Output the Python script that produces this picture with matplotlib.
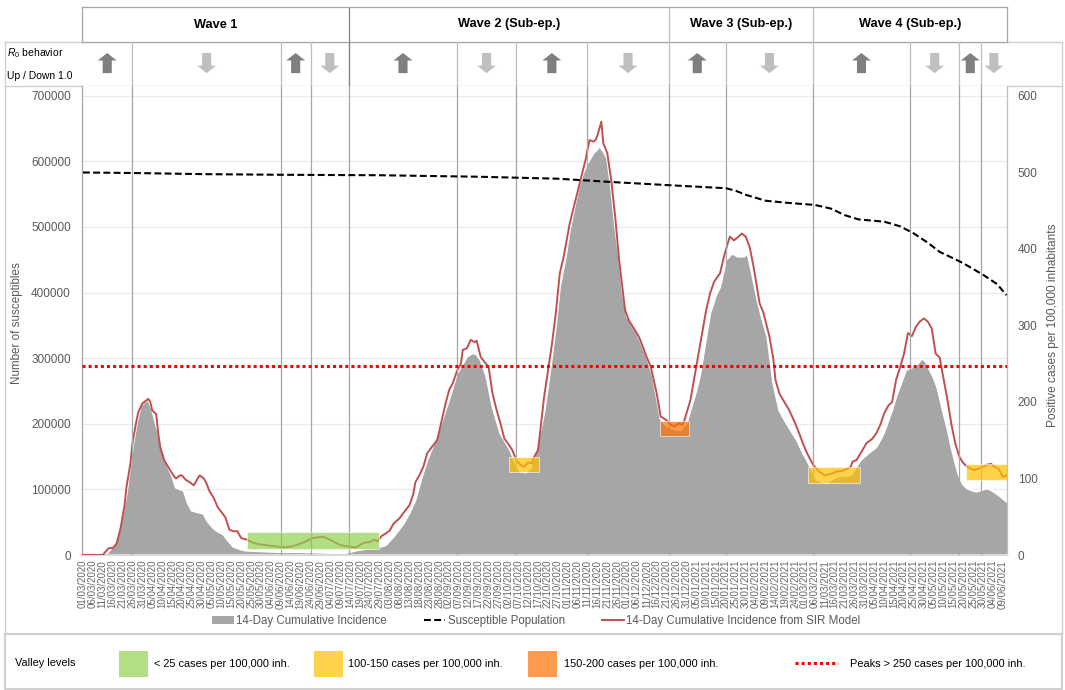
import numpy as np
import pandas as pd
import matplotlib
matplotlib.use("Agg")
import matplotlib.pyplot as plt
from matplotlib.patches import Rectangle, Polygon
from matplotlib.lines import Line2D
from matplotlib.transforms import blended_transform_factory
from matplotlib.ticker import FuncFormatter

plt.rcParams['font.family'] = ['Liberation Sans', 'DejaVu Sans']
plt.rcParams['mathtext.fontset'] = 'custom'
plt.rcParams['mathtext.rm'] = 'Liberation Sans'
plt.rcParams['mathtext.it'] = 'Liberation Sans:italic'

"""
Data (days counted from 01/03/2020)
"""
start = pd.Timestamp('2020-03-01')
last_day = 466.8

# 14-day cumulative incidence (per 100,000 inh.)
ci_day = [0, 10, 12, 14, 16, 19, 22, 25, 27, 29, 31, 33, 35, 37, 39, 41, 43, 45, 47, 49,
          51, 53, 55, 58, 61, 63, 66, 68, 71, 73, 76, 79, 82, 89, 100, 110, 123, 131, 135, 138,
          143, 148, 153, 157, 162, 165, 168, 171, 174, 178, 181, 184, 186, 189, 192, 194, 197, 199, 201, 204,
          207, 211, 216, 219, 221, 224, 226, 229, 231, 233, 235, 237, 239, 241, 244, 246, 249, 251, 253, 255,
          258, 260, 261, 263, 265, 267, 269, 271, 273, 275, 278, 280, 283, 285, 288, 290, 292, 295, 298, 302,
          305, 307, 310, 312, 315, 317, 320, 322, 325, 328, 331, 334, 336, 338, 341, 343, 346, 349, 352, 355,
          358, 361, 364, 366, 369, 371, 374, 376, 378, 381, 384, 388, 393, 397, 401, 404, 406, 409, 411, 414,
          416, 420, 422, 424, 426, 428, 430, 432, 435, 437, 439, 441, 443, 445, 447, 450, 452, 454, 457, 459,
          462, 464, 466.8]
ci_val = [0, 0, 2, 8, 15, 40, 80, 140, 170, 194, 200, 203, 190, 170, 152, 133, 115, 104, 88, 86,
          84, 68, 58, 56, 54, 44, 35, 31, 27, 20, 11, 8, 6, 5, 4, 4, 3, 2, 4, 6,
          8, 9, 13, 24, 41, 55, 72, 100, 124, 150, 172, 195, 211, 237, 250, 259, 264, 262, 255, 233,
          194, 159, 137, 118, 109, 108, 113, 137, 160, 185, 220, 259, 300, 350, 390, 424, 462, 485, 500, 512,
          525, 530, 534, 528, 518, 480, 430, 390, 340, 312, 298, 290, 272, 259, 235, 207, 178, 168, 165, 163,
          172, 189, 215, 237, 285, 316, 340, 350, 385, 394, 390, 390, 394, 370, 333, 312, 285, 224, 189, 175,
          162, 150, 133, 124, 108, 98, 95, 94, 98, 102, 104, 104, 124, 133, 141, 155, 168, 190, 207, 228,
          242, 246, 250, 257, 253, 242, 232, 218, 185, 165, 141, 120, 102, 92, 87, 84, 83, 85, 87, 85,
          80, 76, 70]

# 14-day cumulative incidence from SIR model (per 100,000 inh.)
sir_day = [0, 10, 11, 13, 15, 17, 19, 21, 22, 24, 25, 27, 28, 30, 32, 33, 34, 35, 37, 38,
           39, 41, 44, 46, 47, 49, 50, 52, 54, 56, 58, 59, 61, 62, 64, 66, 68, 70, 72, 74,
           76, 78, 80, 83, 86, 89, 95, 101, 105, 108, 112, 116, 119, 121, 124, 127, 130, 134, 138, 140,
           142, 145, 147, 149, 151, 153, 155, 157, 160, 162, 165, 167, 168, 170, 172, 174, 176, 179, 181, 183,
           185, 187, 189, 191, 192, 194, 196, 198, 199, 201, 203, 205, 207, 209, 211, 213, 215, 217, 219, 221,
           223, 225, 227, 228, 230, 231, 233, 235, 237, 239, 241, 243, 246, 249, 251, 253, 254, 256, 258, 259,
           260, 262, 263, 265, 267, 269, 271, 274, 276, 278, 281, 283, 285, 287, 290, 292, 295, 297, 299, 301,
           303, 304, 307, 310, 313, 315, 317, 319, 322, 324, 326, 327, 329, 331, 333, 335, 337, 339, 342, 344,
           347, 349, 350, 352, 354, 357, 360, 362, 364, 366, 369, 372, 375, 378, 381, 384, 388, 389, 391, 394,
           396, 399, 401, 403, 405, 407, 409, 411, 413, 415, 417, 419, 421, 423, 425, 427, 429, 431, 433, 435,
           437, 439, 441, 443, 445, 447, 450, 452, 454, 457, 459, 461, 463, 465, 466.8]
sir_val = [0, 0, 3, 9, 9, 15, 35, 65, 89, 120, 146, 175, 187, 198, 202, 204, 200, 189, 184, 160,
           141, 124, 111, 103, 100, 104, 104, 98, 95, 91, 100, 104, 100, 96, 83, 75, 63, 56, 49, 33,
           31, 31, 22, 20, 16, 14, 12, 10, 11, 13, 17, 22, 23, 24, 21, 17, 13, 11, 10, 13,
           16, 17, 20, 18, 25, 28, 32, 41, 48, 55, 65, 80, 95, 104, 115, 133, 140, 150, 172, 195,
           215, 225, 240, 250, 268, 270, 281, 278, 280, 259, 252, 246, 211, 190, 172, 152, 145, 137, 124, 118,
           115, 121, 120, 128, 137, 159, 205, 240, 275, 316, 368, 390, 433, 464, 485, 505, 516, 542, 540, 542,
           548, 566, 538, 525, 490, 442, 385, 320, 306, 298, 285, 272, 258, 246, 211, 181, 176, 170, 168, 172,
           170, 176, 202, 246, 290, 320, 342, 357, 368, 390, 408, 416, 411, 415, 420, 416, 402, 376, 329, 316,
           285, 255, 229, 211, 202, 189, 172, 159, 145, 133, 118, 109, 104, 106, 109, 110, 115, 122, 124, 137,
           146, 152, 159, 170, 185, 195, 200, 229, 245, 263, 290, 286, 298, 305, 309, 305, 296, 263, 258, 230,
           202, 170, 145, 128, 120, 115, 111, 112, 114, 118, 119, 115, 112, 102, 104]

# susceptible population (number of people)
sus_day = [0, 30, 60, 100, 150, 200, 240, 270, 300, 325, 330, 335, 345, 355, 370, 378,
           385, 392, 405, 413, 420, 427, 433, 440, 445, 455, 462, 466.8]
sus_val = [583000, 582000, 580500, 579500, 578800, 576500, 573500, 568000, 563000, 559000,
           555000, 549000, 540000, 537000, 533500, 528000, 518000, 511500, 508000, 501000,
           490000, 476000, 462000, 452000, 444600, 427000, 413000, 396000]

# R0 behaviour periods (boundaries, days) and direction of each period
r0_bounds = [25, 100, 115, 134.5, 189, 219, 255, 296, 325, 369, 418, 443, 454]
r0_dirs = ['up', 'down', 'up', 'down', 'up', 'down', 'up', 'down',
           'up', 'down', 'up', 'down', 'up', 'down']

# waves
wave_bounds = [134.5, 296, 369]
wave_names = ['Wave 1', 'Wave 2 (Sub-ep.)', 'Wave 3 (Sub-ep.)', 'Wave 4 (Sub-ep.)']

# valley boxes: start day, end day, low, high (per 100,000 inh.), level
valley_start = [83, 215.5, 291.7, 366.7, 446.4]
valley_end = [149.8, 230.7, 306.5, 392.5, 466.8]
valley_low = [8, 108, 155, 94.5, 98.3]
valley_high = [30.4, 128, 175.4, 115.3, 118.9]
valley_level = ['green', 'yellow', 'orange', 'yellow', 'yellow']

peak_level = 247

valley_colors = {'green': '#92D050', 'yellow': '#FFC000', 'orange': '#FF7000'}
valley_labels = ['< 25 cases per 100,000 inh.', '100-150 cases per 100,000 inh.',
                 '150-200 cases per 100,000 inh.']

tick_days = np.arange(0, 466, 5)
tick_labels = [(start + pd.Timedelta(days=int(d))).strftime('%d/%m/%Y') for d in tick_days]


"""
Figure layout
"""
W, H = 1065, 690
fig = plt.figure(figsize=(W / 100, H / 100), dpi=100)


def box(x0, y0, x1, y1):
    return [x0 / W, 1 - y1 / H, (x1 - x0) / W, (y1 - y0) / H]


ov = fig.add_axes([0, 0, 1, 1], zorder=0)
ov.set_xlim(0, W)
ov.set_ylim(H, 0)
ov.axis('off')

frame_col = '#D0D0D0'
ov.plot([5, 1062], [41.7, 41.7], color=frame_col, lw=1)
ov.plot([5, 1062], [86, 86], color=frame_col, lw=1)
ov.plot([5, 5], [41.7, 634], color=frame_col, lw=1)
ov.plot([1062, 1062], [41.7, 634], color=frame_col, lw=1)
ov.add_patch(Rectangle((5, 634), 1057, 55, fill=False, edgecolor=frame_col, lw=1.5))

ov.text(7, 53, r'$\mathit{R}_0$ behavior', fontsize=7.5, va='center', ha='left')
ov.text(7, 76, 'Up / Down 1.0', fontsize=7.5, va='center', ha='left')

# main plot (right units)
y_scale = 600 / 700000
ax = fig.add_axes(box(82, 86, 1006.5, 555), zorder=2)
ax.set_xlim(-0.5, last_day)
ax.set_ylim(0, 714800 * y_scale)

for v in range(100000, 700001, 100000):
    ax.axhline(v * y_scale, color='#EBEBEB', lw=1, zorder=0)

ax.fill_between(ci_day, 0, ci_val, color='#A6A6A6', lw=0, zorder=1)
ax.plot(ci_day, ci_val, color='white', lw=1.6, zorder=2)
ax.plot(sir_day, sir_val, color='#C0504D', lw=1.4, zorder=3)

for b in r0_bounds:
    ax.axvline(b, color='#A6A6A6', lw=0.9, zorder=4)

for s, e, lo, hi, lev in zip(valley_start, valley_end, valley_low, valley_high, valley_level):
    ax.add_patch(Rectangle((s, lo), e - s, hi - lo, facecolor=valley_colors[lev], alpha=0.7,
                           edgecolor='white', lw=0.6, zorder=5))

ax.axhline(peak_level, color='#FF0000', lw=2.2, linestyle=(0, (1, 1)), zorder=6)

ax.set_xticks(tick_days)
ax.set_xticklabels(tick_labels, rotation=90, fontsize=7.0, color='#666666')
ax.tick_params(axis='x', length=0, pad=3.5)

axl = ax.twinx()
ax.yaxis.tick_right()
ax.yaxis.set_label_position('right')
axl.yaxis.tick_left()
axl.yaxis.set_label_position('left')
axl.set_ylim(0, 714800)
axl.plot(sus_day, sus_val, color='black', lw=1.5, linestyle=(0, (3.3, 1.6)))

ax.set_yticks(range(0, 601, 100))
axl.set_yticks(range(0, 700001, 100000))
axl.yaxis.set_major_formatter(FuncFormatter(lambda v, p: f'{int(v)}'))
ax.tick_params(axis='y', length=0, pad=8, labelsize=8.5, labelcolor='#595959')
axl.tick_params(axis='y', length=0, pad=8, labelsize=8.5, labelcolor='#595959')

ax.set_ylabel('Positive cases per 100,000 inhabitants', fontsize=8.6, color='#595959')
ax.yaxis.set_label_coords((1047 - 82) / 924.5, 0.49)
axl.set_ylabel('Number of susceptibles', fontsize=8.4, color='#595959')
axl.yaxis.set_label_coords((23 - 82) / 924.5, 0.495)

for sp in axl.spines.values():
    sp.set_visible(False)
ax.spines['top'].set_visible(False)
ax.spines['left'].set_color('#A6A6A6')
ax.spines['left'].set_linewidth(0.9)
ax.spines['right'].set_color('#BFBFBF')
ax.spines['right'].set_linewidth(0.9)
ax.spines['bottom'].set_color('#D9D9D9')
ax.spines['bottom'].set_linewidth(1.5)

# header with waves
hdr = fig.add_axes(box(82, 7.3, 1006.5, 41.7), sharex=ax)
hdr.set_ylim(0, 1)
hdr.tick_params(left=False, bottom=False, labelleft=False, labelbottom=False)
for sp in hdr.spines.values():
    sp.set_color('#A6A6A6')
    sp.set_linewidth(0.9)
edges = [-0.5] + wave_bounds + [last_day]
for i, name in enumerate(wave_names):
    if i > 0:
        hdr.axvline(edges[i], color='#808080' if i == 1 else '#BFBFBF', lw=0.9)
    hdr.text((edges[i] + edges[i + 1]) / 2, 0.5, name, ha='center', va='center',
             fontsize=9.2, fontweight='bold')

# R0 behaviour row
r0 = fig.add_axes(box(82, 41.7, 1006.5, 86), sharex=ax)
r0.set_ylim(0, 1)
r0.axis('off')
r0.patch.set_visible(False)
tr = blended_transform_factory(r0.transData, r0.transAxes)
seg = [-0.5] + r0_bounds + [last_day]
for b in r0_bounds:
    r0.axvline(b, color='#BFBFBF', lw=0.9)
r0.axvline(134.5, color='#808080', lw=0.9)
hw, sw = 4.8, 2.3
y_lo, y_hi, hh = 0.29, 0.745, 0.17
for i, d in enumerate(r0_dirs):
    c = (seg[i] + seg[i + 1]) / 2
    if d == 'up':
        pts = [(c - sw, y_lo), (c + sw, y_lo), (c + sw, y_hi - hh), (c + hw, y_hi - hh),
               (c, y_hi), (c - hw, y_hi - hh), (c - sw, y_hi - hh)]
        col = '#7F7F7F'
    else:
        pts = [(c - sw, y_hi), (c + sw, y_hi), (c + sw, y_lo + hh), (c + hw, y_lo + hh),
               (c, y_lo), (c - hw, y_lo + hh), (c - sw, y_lo + hh)]
        col = '#BFBFBF'
    r0.add_patch(Polygon(pts, closed=True, facecolor=col, edgecolor='none', transform=tr))

# chart legend
handles = [Rectangle((0, 0), 1, 1, facecolor='#A6A6A6', edgecolor='none'),
           Line2D([], [], color='black', lw=1.5, linestyle=(0, (3.3, 1.6))),
           Line2D([], [], color='#C0504D', lw=1.4)]
labels = ['14-Day Cumulative Incidence', 'Susceptible Population',
          '14-Day Cumulative Incidence from SIR Model']
fig.legend(handles, labels, loc='center', bbox_to_anchor=(536 / W, 1 - 621 / H), ncol=3,
           frameon=False, fontsize=8.3, handlelength=1.9, handleheight=0.6,
           handletextpad=0.2, columnspacing=3.2, labelcolor='#595959')

# valley legend
ov.text(15, 663, 'Valley levels', fontsize=7.9, va='center', ha='left')
leg_x = [(119, 154), (314, 348), (528, 564)]
for (px, tx), lev, lab in zip(leg_x, ['green', 'yellow', 'orange'], valley_labels):
    ov.add_patch(Rectangle((px, 651), 29, 26, facecolor=valley_colors[lev], alpha=0.7,
                           edgecolor='none'))
    ov.text(tx, 664, lab, fontsize=7.9, va='center', ha='left')
ov.plot([795, 838], [663, 663], color='#FF0000', lw=2.2, linestyle=(0, (1, 1)))
ov.text(850, 664, 'Peaks > 250 cases per 100,000 inh.', fontsize=7.9, va='center', ha='left')

fig.savefig('out.png', dpi=100)
